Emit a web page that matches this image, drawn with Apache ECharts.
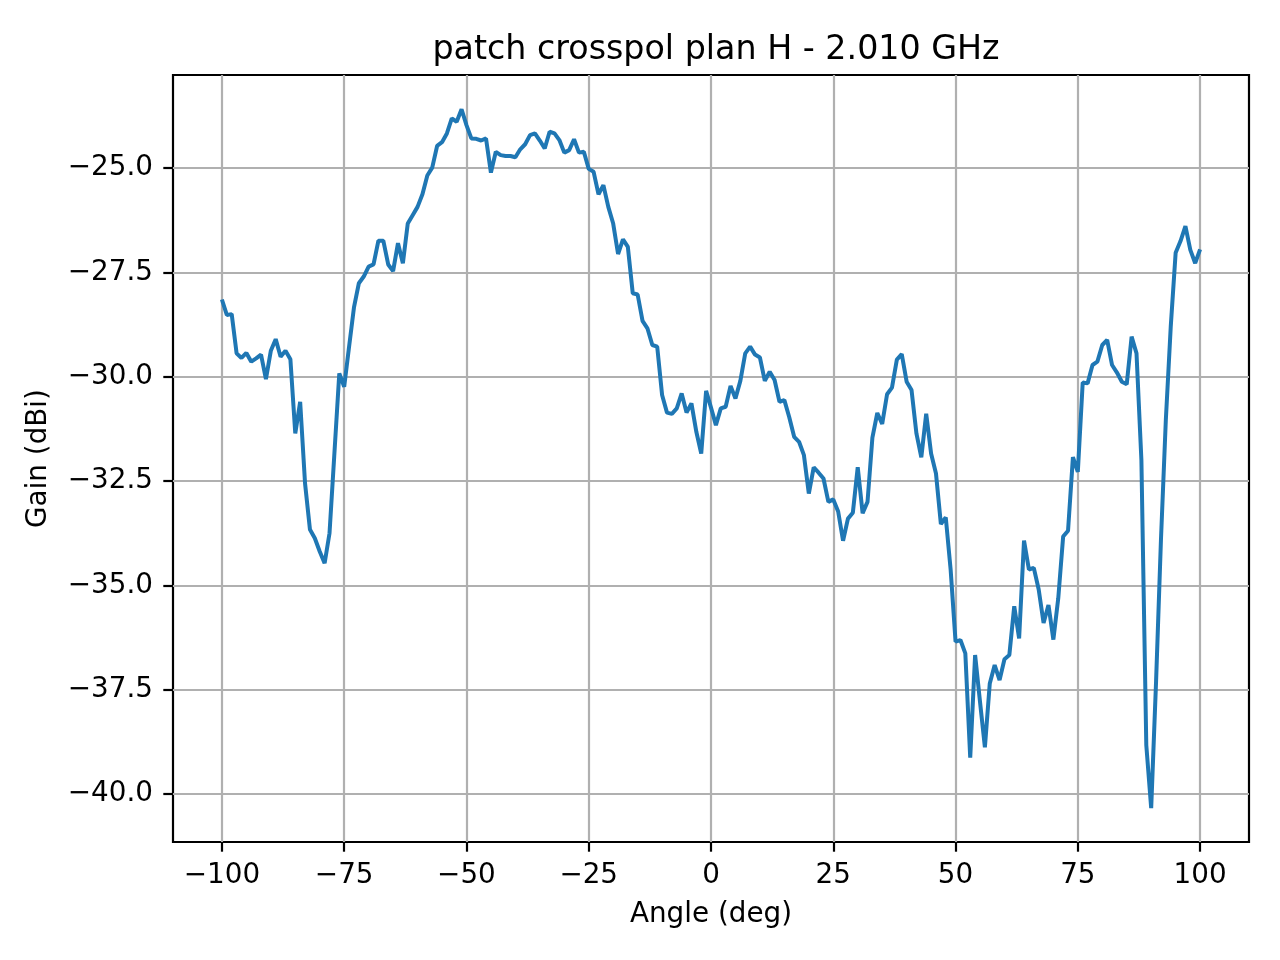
<!DOCTYPE html>
<html>
<head>
<meta charset="utf-8">
<script src="https://cdn.jsdelivr.net/npm/echarts@6/dist/echarts.min.js"></script>
<style>
  html, body { margin: 0; padding: 0; background: #fff; }
  #main { width: 1280px; height: 960px; }
</style>
</head>
<body>
<div id="main"></div>
<script>
// angles -100..100 deg, 1 deg step
var angles = [];
for (var a = -100; a <= 100; a++) angles.push(a);

// gain (dBi)
var gain = [
  -28.15, -28.52, -28.50, -29.44, -29.55, -29.43, -29.64, -29.56, -29.47, -30.06,
  -29.38, -29.10, -29.52, -29.38, -29.58, -31.36, -30.60, -32.56, -33.66, -33.87,
  -34.19, -34.47, -33.75, -31.84, -29.92, -30.24, -29.28, -28.34, -27.76, -27.60,
  -27.36, -27.31, -26.74, -26.74, -27.31, -27.47, -26.80, -27.28, -26.33, -26.13,
  -25.93, -25.63, -25.18, -24.99, -24.47, -24.38, -24.17, -23.81, -23.89, -23.59,
  -23.97, -24.29, -24.30, -24.34, -24.29, -25.11, -24.61, -24.69, -24.71, -24.71,
  -24.74, -24.55, -24.43, -24.21, -24.17, -24.34, -24.53, -24.13, -24.17, -24.33,
  -24.63, -24.57, -24.31, -24.63, -24.61, -25.02, -25.09, -25.63, -25.41, -25.93,
  -26.33, -27.06, -26.71, -26.89, -28.00, -28.03, -28.66, -28.84, -29.24, -29.28,
  -30.44, -30.86, -30.89, -30.76, -30.40, -30.86, -30.64, -31.32, -31.84, -30.34,
  -30.74,
  -31.16, -30.76, -30.72, -30.22, -30.52, -30.10, -29.44, -29.28, -29.47, -29.54,
  -30.10, -29.88, -30.08, -30.60, -30.56, -30.97, -31.44, -31.56, -31.88, -32.80,
  -32.17, -32.30, -32.44, -33.00, -32.94, -33.23, -33.93, -33.40, -33.26, -32.17,
  -33.27, -33.00, -31.46, -30.87, -31.13, -30.42, -30.26, -29.59, -29.46, -30.12,
  -30.32, -31.36, -31.93, -30.89, -31.84, -32.32, -33.53, -33.37, -34.63, -36.35,
  -36.31, -36.63, -39.13, -36.67, -37.79, -38.88, -37.35, -36.91, -37.27, -36.77,
  -36.67, -35.50, -36.27, -33.93, -34.62, -34.58, -35.10, -35.90, -35.47, -36.30,
  -35.31, -33.83, -33.69, -31.93, -32.28, -30.14, -30.16, -29.72, -29.64, -29.24,
  -29.12, -29.72, -29.90, -30.12, -30.18, -29.04, -29.44, -32.00, -38.83, -40.34,
  -37.30, -33.90, -31.02, -28.80, -27.03, -26.75, -26.39, -26.96, -27.28, -26.95
];

var xTicks = [-100, -75, -50, -25, 0, 25, 50, 75, 100];
var yTicks = [-40, -37.5, -35, -32.5, -30, -27.5, -25];

var font = 'DejaVu Sans';

function minus(s) { return String(s).replace('-', '\u2212'); }

var points = angles.map(function (a, i) { return [a, gain[i]]; });

var myChart = echarts.init(document.getElementById('main'));

var option = {
    animation: false,
    backgroundColor: '#fff',
    title: {
        text: 'patch crosspol plan H - 2.010 GHz',
        left: 711,
        textAlign: 'center',
        top: 29,
        textStyle: { fontFamily: font, fontSize: 33.3, fontWeight: 'normal', color: '#000' }
    },
    grid: {
        left: 173, right: 31, top: 75, bottom: 118,
        show: true, borderColor: '#000', borderWidth: 2.2, backgroundColor: 'transparent'
    },
    xAxis: {
        type: 'value',
        min: -110, max: 110,
        name: 'Angle (deg)',
        nameLocation: 'middle',
        nameGap: 59,
        nameTextStyle: { fontFamily: font, fontSize: 27.8, color: '#000' },
        axisLine: { show: false, onZero: false },
        axisTick: { show: true, length: 9.7, lineStyle: { color: '#000', width: 2.2 }, customValues: xTicks },
        axisLabel: {
            margin: 20, fontFamily: font, fontSize: 27.8, color: '#000',
            customValues: xTicks,
            formatter: function (v) { return minus(v); }
        },
        splitLine: { show: true, lineStyle: { color: '#b0b0b0', width: 2.2 } }
    },
    yAxis: {
        type: 'value',
        min: -41.15, max: -22.77,
        name: 'Gain (dBi)',
        nameLocation: 'middle',
        nameGap: 120,
        nameRotate: 90,
        nameTextStyle: { fontFamily: font, fontSize: 27.8, color: '#000' },
        axisLine: { show: false, onZero: false },
        axisTick: { show: true, length: 9.7, lineStyle: { color: '#000', width: 2.2 }, customValues: yTicks },
        axisLabel: {
            margin: 20, fontFamily: font, fontSize: 27.8, color: '#000',
            customValues: yTicks,
            formatter: function (v) { return minus(v.toFixed(1)); }
        },
        splitLine: { show: true, lineStyle: { color: '#b0b0b0', width: 2.2 } }
    },
    series: [{
        type: 'line',
        data: points,
        showSymbol: false,
        lineStyle: { color: '#1f77b4', width: 4 },
        itemStyle: { color: '#1f77b4' }
    }]
};

myChart.setOption(option);
</script>
</body>
</html>
